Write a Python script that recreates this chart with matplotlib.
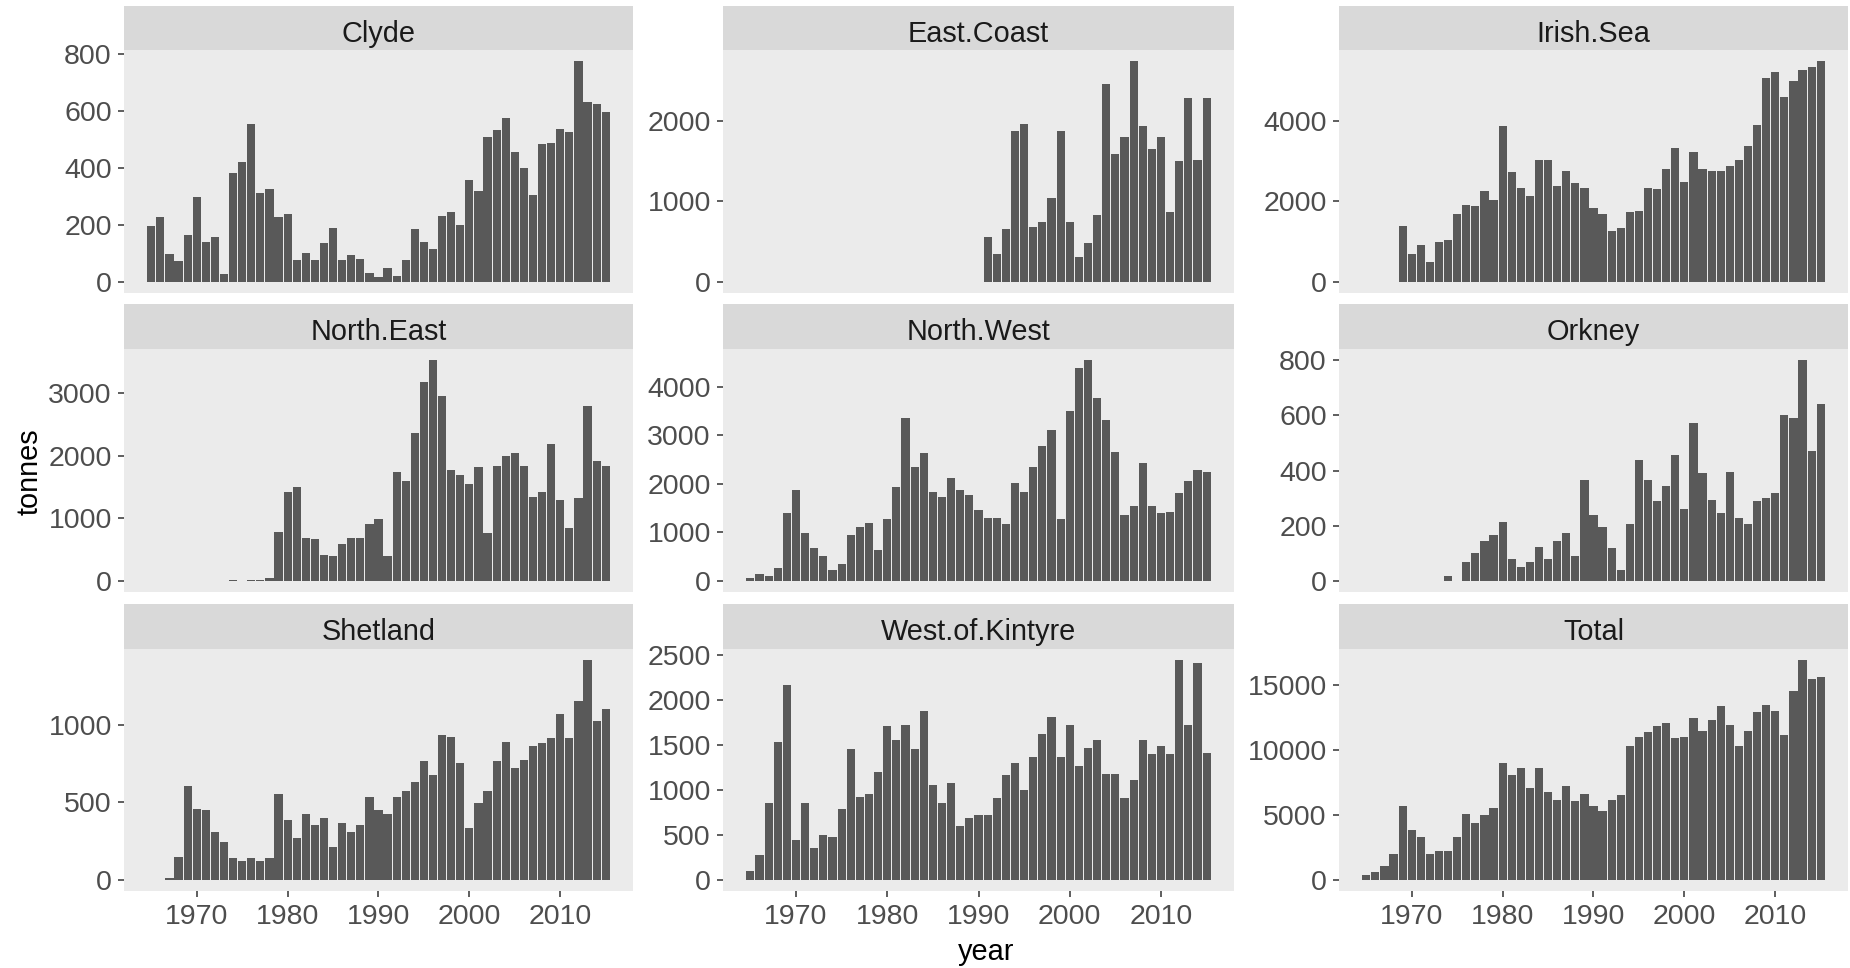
import numpy as np
import matplotlib
matplotlib.use('Agg')
import matplotlib.pyplot as plt

nan = np.nan

# landings by region (tonnes); each list starts at its first year
clyde_start = 1965
clyde = [195, 228, 98, 72, 163, 298, 141, 157, 28, 380, 422, 552, 310, 325, 228, 238,
         76, 103, 76, 135, 190, 76, 93, 82, 33, 18, 50, 22, 76, 184, 141, 115, 232, 244,
         200, 358, 320, 509, 531, 575, 454, 400, 303, 482, 487, 536, 525, 774, 632, 623, 596]

east_coast_start = 1991
east_coast = [559, 348, 654, 1876, 1954, 687, 749, 1035, 1876, 749, 311, 480, 824, 2451,
              1590, 1801, 2737, 1934, 1648, 1801, 861, 1495, 2277, 1511, 2277]

irish_sea_start = 1969
irish_sea = [1375, 696, 919, 505, 994, 1035, 1681, 1913, 1872, 2261, 2029, 3859, 2716, 2335,
             2137, 3014, 3014, 2368, 2758, 2451, 2335, 1839, 1681, 1267, 1342, 1723, 1764,
             2335, 2294, 2791, 3329, 2484, 3213, 2791, 2758, 2758, 2865, 3014, 3371, 3901,
             5052, 5201, 4588, 4969, 5242, 5317, 5474]

north_east_start = 1974
north_east = [12, nan, 10, 12, 53, 784, 1420, 1494, 689, 668, 419, 397, 588, 689, 689, 906,
              986, 397, 1738, 1595, 2353, 3180, 3524, 2957, 1765, 1690, 1542, 1812, 763,
              1839, 1987, 2035, 1839, 1346, 1420, 2178, 1298, 837, 1325, 2787, 1908, 1839]

north_west_start = 1965
north_west = [68, 137, 103, 260, 1404, 1870, 986, 671, 514, 226, 356, 952, 1110, 1205, 637,
              1274, 1932, 3356, 2342, 2630, 1836, 1740, 2123, 1870, 1774, 1459, 1301, 1301,
              1171, 2027, 1836, 2342, 2788, 3103, 1274, 3514, 4397, 4555, 3767, 3322, 2658,
              1363, 1555, 2438, 1555, 1397, 1425, 1808, 2062, 2281, 2247]

orkney_start = 1974
orkney = [18, nan, 67, 101, 145, 167, 212, 78, 51, 67, 123, 78, 145, 173, 90, 367, 240, 195,
          118, 40, 206, 440, 367, 289, 345, 457, 261, 573, 390, 295, 245, 395, 228, 206,
          289, 301, 318, 601, 590, 801, 473, 640]

shetland_start = 1967
shetland = [11, 150, 606, 460, 449, 310, 247, 140, 120, 140, 120, 140, 557, 389, 269, 428,
            357, 398, 211, 368, 310, 357, 538, 449, 428, 538, 576, 634, 766, 675, 933, 923,
            755, 338, 497, 576, 766, 892, 725, 774, 865, 884, 914, 1073, 914, 1153, 1419,
            1024, 1103]

kintyre_start = 1965
kintyre = [103, 273, 853, 1536, 2164, 443, 853, 358, 495, 480, 783, 1451, 919, 956, 1193,
           1706, 1551, 1721, 1451, 1876, 1056, 853, 1075, 595, 683, 716, 716, 905, 1160,
           1296, 1004, 1363, 1621, 1809, 1363, 1721, 1263, 1466, 1551, 1178, 1178, 905,
           1108, 1551, 1400, 1484, 1400, 2441, 1721, 2404, 1414]

total_start = 1965
total = [358, 589, 1075, 2022, 5684, 3815, 3328, 2022, 2253, 2253, 3328, 5095, 4378, 4967,
         5556, 8986, 8039, 8628, 7092, 8628, 6733, 6144, 7220, 6042, 6631, 5684, 5325, 6144,
         6503, 10292, 11009, 11342, 11828, 12058, 10881, 11009, 12417, 11470, 12289, 13364,
         11930, 10292, 11470, 12878, 13467, 13006, 11111, 14542, 16897, 15463, 15591]

panels = [
    ('Clyde', clyde_start, clyde, [0, 200, 400, 600, 800]),
    ('East.Coast', east_coast_start, east_coast, [0, 1000, 2000]),
    ('Irish.Sea', irish_sea_start, irish_sea, [0, 2000, 4000]),
    ('North.East', north_east_start, north_east, [0, 1000, 2000, 3000]),
    ('North.West', north_west_start, north_west, [0, 1000, 2000, 3000, 4000]),
    ('Orkney', orkney_start, orkney, [0, 200, 400, 600, 800]),
    ('Shetland', shetland_start, shetland, [0, 500, 1000]),
    ('West.of.Kintyre', kintyre_start, kintyre, [0, 500, 1000, 1500, 2000, 2500]),
    ('Total', total_start, total, [0, 5000, 10000, 15000]),
]
year_ticks = [1970, 1980, 1990, 2000, 2010]

plt.rcParams['font.family'] = ['Liberation Sans', 'DejaVu Sans']

W, H = 1850, 968
fig = plt.figure(figsize=(W / 100, H / 100), dpi=100)

# pixel layout: columns (left, right), rows (strip top, strip bottom, panel bottom)
cols = [(124, 633), (723, 1234), (1339, 1848)]
rows = [(6, 50, 293), (304, 349, 592), (604, 649, 891)]

TICK_FS = 20.5
TEXT_FS = 20.8

for i, (name, start, vals, ticks) in enumerate(panels):
    r, c = divmod(i, 3)
    x0, x1 = cols[c]
    st, sb, pb = rows[r]
    ax = fig.add_axes([x0 / W, 1 - pb / H, (x1 - x0) / W, (pb - sb) / H])
    sax = fig.add_axes([x0 / W, 1 - sb / H, (x1 - x0) / W, (sb - st) / H])

    v = np.array(vals, dtype=float)
    yrs = start + np.arange(len(v))
    ok = ~np.isnan(v)
    ax.bar(yrs[ok], v[ok], width=0.9, color='#595959', linewidth=0)

    vmax = np.nanmax(v)
    ax.set_ylim(-0.05 * vmax, 1.05 * vmax)
    ax.set_xlim(1962.0, 2018.0)
    ax.set_facecolor('#EBEBEB')
    for s in ax.spines.values():
        s.set_visible(False)
    ax.set_yticks(ticks)
    ax.set_yticklabels([str(t) for t in ticks])
    ax.tick_params(axis='y', length=4.3, width=1.1, color='#333333',
                   labelcolor='#4D4D4D', labelsize=TICK_FS, pad=4.5)
    ax.set_xticks(year_ticks)
    if r == 2:
        ax.set_xticklabels([str(t) for t in year_ticks])
        ax.tick_params(axis='x', length=4.3, width=1.1, color='#333333',
                       labelcolor='#4D4D4D', labelsize=TICK_FS, pad=5)
    else:
        ax.tick_params(axis='x', bottom=False, labelbottom=False)

    sax.set_facecolor('#D9D9D9')
    sax.set_xticks([])
    sax.set_yticks([])
    for s in sax.spines.values():
        s.set_visible(False)
    sax.text(0.5, 0.19, name, ha='center', va='baseline', fontsize=TEXT_FS,
             color='#1A1A1A', transform=sax.transAxes)

fig.text(38 / W, 1 - 472 / H, 'tonnes', rotation=90, rotation_mode='anchor',
         ha='center', va='baseline', fontsize=TEXT_FS, color='black')
fig.text(986 / W, 1 - 960 / H, 'year', ha='center', va='baseline',
         fontsize=TEXT_FS, color='black')

fig.savefig('out.png', dpi=100, facecolor='white')
